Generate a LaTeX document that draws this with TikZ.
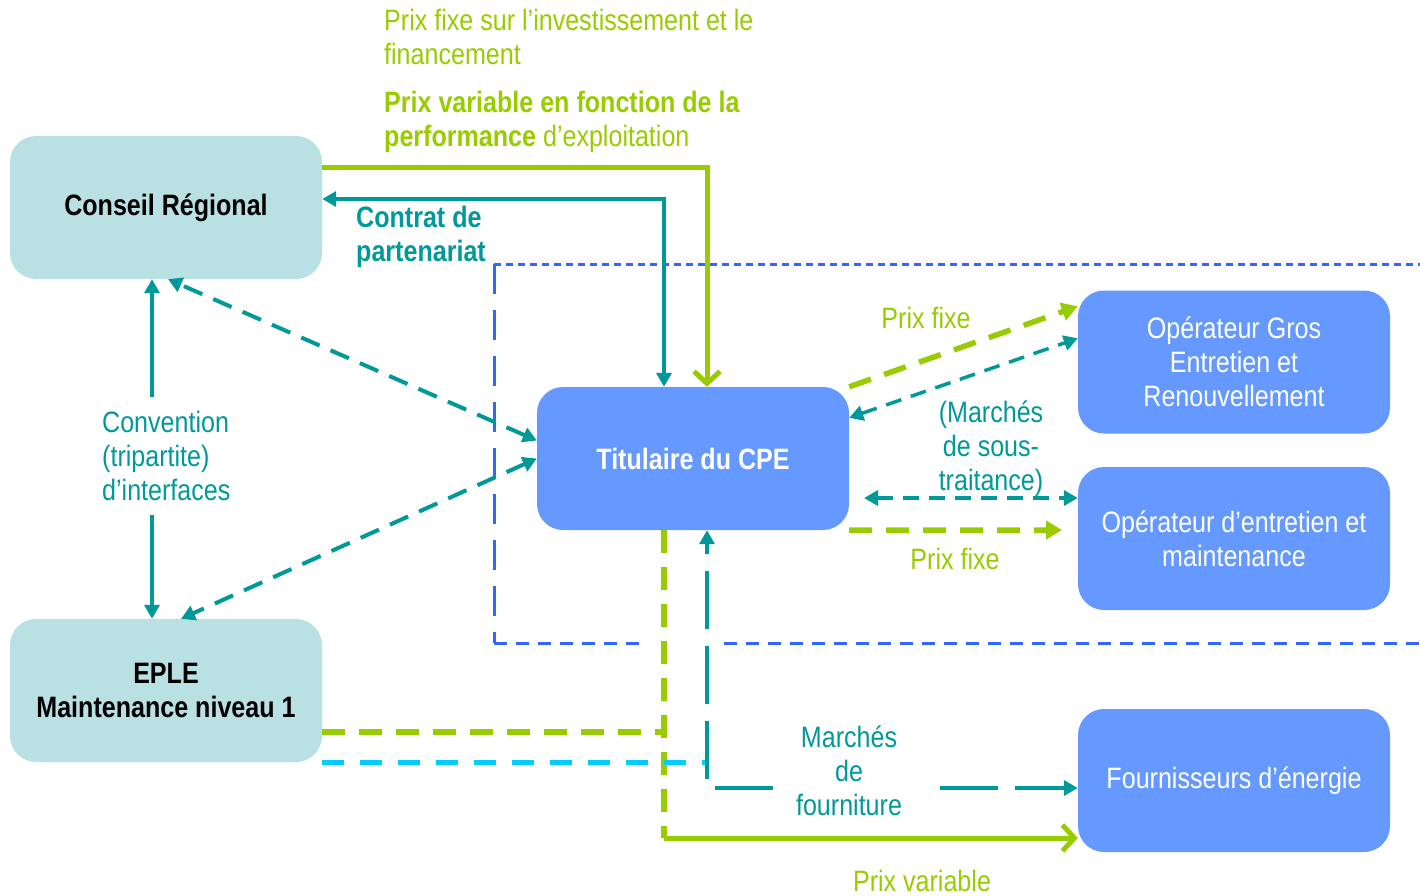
\documentclass[tikz,border=0pt]{standalone}
\usepackage{fontspec}
\setmainfont{Liberation Sans}[FakeStretch=0.85]
\usetikzlibrary{arrows.meta}
\definecolor{boxlt}{HTML}{B9E0E3}
\definecolor{boxbl}{HTML}{6699FF}
\definecolor{teal1}{HTML}{009999}
\definecolor{green1}{HTML}{99CC00}
\definecolor{blue1}{HTML}{3366FF}
\definecolor{cyan1}{HTML}{00CCFF}
\newcommand\mysz{\fontsize{29.5}{34}\selectfont}
\tikzset{
  ttri/.tip={Triangle[length=14pt,width=15pt]},
  gtri/.tip={Triangle[length=16pt,width=18pt]},
  gbarb/.tip={Straight Barb[length=12pt,width=26pt]},
  ltbox/.style={fill=boxlt, rounded corners=26pt, minimum width=312pt, minimum height=143pt, inner sep=0pt, align=center, font=\mysz\bfseries},
  blbox/.style={fill=boxbl, rounded corners=26pt, minimum width=312pt, minimum height=143pt, inner sep=0pt, align=center, text=white, font=\mysz},
  lbl/.style={inner sep=0pt, font=\mysz},
  tsolid/.style={draw=teal1, line width=3.5pt},
  tdash/.style={draw=teal1, line width=4pt, dash pattern=on 20pt off 12pt},
  tdashs/.style={draw=teal1, line width=3.5pt, dash pattern=on 16pt off 10pt},
  tldash/.style={draw=teal1, line width=3.5pt, dash pattern=on 58pt off 17pt, dash phase=47pt},
  gsolid/.style={draw=green1, line width=5pt},
  gdash/.style={draw=green1, line width=5.5pt, dash pattern=on 23pt off 14pt},
  cdash/.style={draw=cyan1, line width=5pt, dash pattern=on 22pt off 16pt},
  bframe/.style={draw=blue1, line width=3pt},
}
\begin{document}
\begin{tikzpicture}[x=1pt,y=-1pt]
\useasboundingbox (0,0) rectangle (1420,895);

% boxes
\node[ltbox] (cr) at (166,207.5) {Conseil Régional};
\node[ltbox] (ep) at (166,690.5) {EPLE\\Maintenance niveau 1};
\node[blbox, font=\mysz\bfseries] (tit) at (693,458.5) {Titulaire du CPE};
\node[blbox] (og) at (1234,362) {Opérateur Gros\\Entretien et\\Renouvellement};
\node[blbox] (oe) at (1234,538.5) {Opérateur d’entretien et\\maintenance};
\node[blbox] (fe) at (1234,780.5) {Fournisseurs d’énergie};

% blue dashed frame
\draw[bframe, dash pattern=on 7pt off 5pt] (494,264) -- (1420,264);
\draw[bframe, dash pattern=on 30pt off 16pt] (494,264) -- (494,643);
\draw[bframe, dash pattern=on 13pt off 9pt] (494,643) -- (640,643) (724,643) -- (1420,643);

% top connectors
\coordinate (g1) at (707,167);
\draw[gsolid, -gbarb] (cr.east |- g1) -- (g1) -- (g1 |- tit.north);
\coordinate (t1) at (664,199);
\draw[tsolid, ttri-ttri] (cr.east |- t1) -- (t1) -- (t1 |- tit.north);

% convention
\coordinate (cv) at (152,456);
\draw[tsolid, ttri-ttri] (cv |- cr.south) -- (cv |- ep.north);
\node[lbl, fill=white, text=teal1, align=left, anchor=west, inner xsep=2pt, inner ysep=14pt] (lcv) at (100,456) {Convention\\(tripartite)\\d’interfaces};

% diagonals
\draw[tdash, ttri-ttri] ([yshift=18pt]tit.west) -- ([xshift=2pt]cr.south);
\draw[tdash, ttri-ttri] (tit.west) -- ([xshift=15pt]ep.north);

% right side
\draw[gdash, -gtri] (tit.north east) -- ([yshift=-16pt]og.north west);
\draw[tdashs, ttri-ttri] ([yshift=-31pt]tit.north east) -- ([yshift=-48pt]og.north west);
\coordinate (h1) at (864,498);
\draw[tdashs, ttri-ttri] (h1) -- (h1 -| oe.west);
\coordinate (h2) at (1062,530);
\draw[gdash, -gtri] (tit.south east) -- (h2);

% bottom
\coordinate (b1) at (664,732);
\coordinate (b2) at (664,838);
\draw[gdash] (tit.south -| b1) -- (b2);
\draw[gdash] (ep.east |- b1) -- (b1);
\draw[gsolid, -gbarb] (b2) -- (b2 -| fe.west);
\coordinate (c1) at (707,762);
\draw[cdash] (ep.east |- c1) -- (c1);
\coordinate (c2) at (707,788);
\draw[tldash, ttri-ttri] (tit.south -| c2) -- (c2) -- (c2 -| fe.west);
\node[lbl, fill=white, text=teal1, align=center, inner xsep=22pt] (lmf) at (849,771) {Marchés\\de\\fourniture};

% labels
\node[lbl, text=green1, anchor=west, align=left] (lp1) at (384,37) {Prix fixe sur l’investissement et le\\financement};
\node[lbl, text=green1, anchor=west, align=left] (lp2) at (384,122) {\textbf{Prix variable en fonction de la}\\\textbf{performance} d’exploitation};
\node[lbl, text=teal1, anchor=west, align=left, font=\mysz\bfseries] (lc) at (356,237) {Contrat de\\partenariat};
\node[lbl, text=green1] (lpf1) at (926,318) {Prix fixe};
\node[lbl, text=teal1, align=center] (lms) at (991,449) {(Marchés\\de sous-\\traitance)};
\node[lbl, text=green1] (lpf2) at (955,559) {Prix fixe};
\node[lbl, text=green1] (lpv) at (922,881) {Prix variable};
\end{tikzpicture}
\end{document}
